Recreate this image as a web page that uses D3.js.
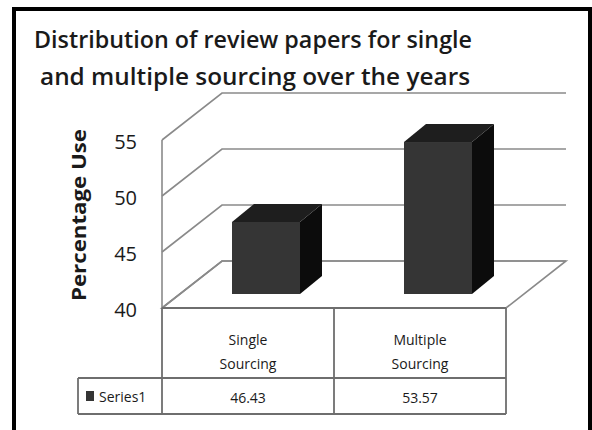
<!DOCTYPE html>
<html>
<head>
<meta charset="utf-8">
<script src="https://cdn.jsdelivr.net/npm/d3@7"></script>
<style>
  body { margin: 0; background: #fff; }
  text { font-family: "Open Sans", "DejaVu Sans", sans-serif; fill: #1a1a1a; }
</style>
</head>
<body>
<div id="chart"></div>
<script>
// chart data
var categories = ["Single Sourcing", "Multiple Sourcing"];
var catLines = [["Single", "Sourcing"], ["Multiple", "Sourcing"]];
var values = [46.43, 53.57];
var seriesName = "Series1";
var yTicks = [40, 45, 50, 55];
var titleLines = ["Distribution of review papers for single", "and multiple sourcing over the years"];

var width = 592, height = 430;

var svg = d3.select("#chart")
    .append("svg")
    .attr("width", width)
    .attr("height", height);

// outer frame
svg.append("rect")
    .attr("x", 14).attr("y", 9)
    .attr("width", 576).attr("height", 440)
    .attr("fill", "none")
    .attr("stroke", "#000")
    .attr("stroke-width", 4);

// title
svg.selectAll(".title")
    .data(titleLines)
    .enter()
    .append("text")
    .attr("x", function(d, i) { return i == 0 ? 34 : 40; })
    .attr("y", function(d, i) { return 48 + i * 37; })
    .attr("textLength", function(d, i) { return i == 0 ? 438 : 430; })
    .attr("lengthAdjust", "spacingAndGlyphs")
    .style("font-size", "23px")
    .style("font-weight", 600)
    .text(function(d) { return d; });

// scales (front plane)
var y = d3.scaleLinear().domain([40, 55]).range([308, 140]);
var x = d3.scaleBand().domain(categories).range([162, 506]);

// depth of the 3d box, and where the bars sit inside it
var depth = {dx: 60, dy: -47};
var barOff = {dx: 18, dy: -14};
var barDepth = {dx: 22, dy: -18};
var barW = 68;

var gridColor = "#8a8a8a";

// floor
svg.append("path")
    .attr("d", "M" + x.range()[0] + "," + y(40) +
        "L" + (x.range()[0] + depth.dx) + "," + (y(40) + depth.dy) +
        "L" + (x.range()[1] + depth.dx) + "," + (y(40) + depth.dy) +
        "L" + x.range()[1] + "," + y(40) + "Z")
    .attr("fill", "#fff")
    .attr("stroke", gridColor)
    .attr("stroke-width", 1.6);

// gridlines (side wall diagonal + back wall horizontal)
svg.selectAll(".grid")
    .data(yTicks)
    .enter()
    .append("path")
    .attr("fill", "none")
    .attr("stroke", gridColor)
    .attr("stroke-width", 1.6)
    .attr("d", function(d) {
        var x0 = x.range()[0];
        return "M" + x0 + "," + y(d) +
            "L" + (x0 + depth.dx) + "," + (y(d) + depth.dy) +
            "L" + (x.range()[1] + depth.dx) + "," + (y(d) + depth.dy);
    });

// left axis line
svg.append("line")
    .attr("x1", x.range()[0]).attr("x2", x.range()[0])
    .attr("y1", y(55)).attr("y2", y(40))
    .attr("stroke", gridColor)
    .attr("stroke-width", 1.6);

// tick labels
svg.selectAll(".tick")
    .data(yTicks)
    .enter()
    .append("text")
    .attr("x", 137)
    .attr("y", function(d) { return y(d) + 9; })
    .attr("text-anchor", "end")
    .style("font-size", "20px")
    .text(function(d) { return d; });

// y axis title
svg.append("text")
    .attr("transform", "translate(86,215) rotate(-90)")
    .attr("text-anchor", "middle")
    .style("font-size", "19px")
    .style("font-weight", "bold")
    .attr("textLength", 172)
    .attr("lengthAdjust", "spacingAndGlyphs")
    .text("Percentage Use");

// 3d bars
var bars = svg.selectAll(".bar")
    .data(values)
    .enter()
    .append("g");

function barX(d, i) { return x(categories[i]) + x.bandwidth() / 2 + barOff.dx - barW / 2; }
function barTop(d) { return y(d) + barOff.dy; }
var barBottom = y(40) + barOff.dy;

// side face
bars.append("path")
    .attr("fill", "#0c0c0c")
    .attr("d", function(d, i) {
        var x1 = barX(d, i) + barW;
        return "M" + x1 + "," + barTop(d) +
            "L" + (x1 + barDepth.dx) + "," + (barTop(d) + barDepth.dy) +
            "L" + (x1 + barDepth.dx) + "," + (barBottom + barDepth.dy) +
            "L" + x1 + "," + barBottom + "Z";
    });

// top face
bars.append("path")
    .attr("fill", "#1e1e1e")
    .attr("d", function(d, i) {
        var x0 = barX(d, i);
        return "M" + x0 + "," + barTop(d) +
            "L" + (x0 + barDepth.dx) + "," + (barTop(d) + barDepth.dy) +
            "L" + (x0 + barW + barDepth.dx) + "," + (barTop(d) + barDepth.dy) +
            "L" + (x0 + barW) + "," + barTop(d) + "Z";
    });

// front face
bars.append("rect")
    .attr("x", barX)
    .attr("y", barTop)
    .attr("width", barW)
    .attr("height", function(d) { return barBottom - barTop(d); })
    .attr("fill", "#353535");

// data table under the chart
var tableColor = "#6e6e6e";
var rowMid = 378, rowBot = 414, legendLeft = 78;
var tbl = svg.append("g")
    .attr("stroke", tableColor)
    .attr("stroke-width", 1.8)
    .attr("fill", "none");

tbl.append("line").attr("x1", x.range()[0]).attr("x2", x.range()[1]).attr("y1", y(40)).attr("y2", y(40));
tbl.append("line").attr("x1", legendLeft).attr("x2", x.range()[1]).attr("y1", rowMid).attr("y2", rowMid);
tbl.append("line").attr("x1", legendLeft).attr("x2", x.range()[1]).attr("y1", rowBot).attr("y2", rowBot);
tbl.append("line").attr("x1", legendLeft).attr("x2", legendLeft).attr("y1", rowMid).attr("y2", rowBot);

var colEdges = [x.range()[0]].concat(categories.map(function(c) { return x(c) + x.bandwidth(); }));
tbl.selectAll(".col")
    .data(colEdges)
    .enter()
    .append("line")
    .attr("x1", function(d) { return d; })
    .attr("x2", function(d) { return d; })
    .attr("y1", y(40))
    .attr("y2", rowBot);

// category labels
svg.selectAll(".cat")
    .data(catLines)
    .enter()
    .append("text")
    .attr("text-anchor", "middle")
    .style("font-size", "14px")
    .each(function(d, i) {
        var t = d3.select(this);
        d.forEach(function(line, j) {
            t.append("tspan")
                .attr("x", x(categories[i]) + x.bandwidth() / 2)
                .attr("y", 345 + j * 24)
                .text(line);
        });
    });

// value cells
svg.selectAll(".val")
    .data(values)
    .enter()
    .append("text")
    .attr("x", function(d, i) { return x(categories[i]) + x.bandwidth() / 2; })
    .attr("y", 403)
    .attr("text-anchor", "middle")
    .style("font-size", "14px")
    .text(function(d) { return d.toFixed(2); });

// legend key
svg.append("rect")
    .attr("x", 86).attr("y", 391)
    .attr("width", 8).attr("height", 10)
    .attr("fill", "#353535");
svg.append("text")
    .attr("x", 99).attr("y", 402)
    .style("font-size", "14px")
    .text(seriesName);
</script>
</body>
</html>
